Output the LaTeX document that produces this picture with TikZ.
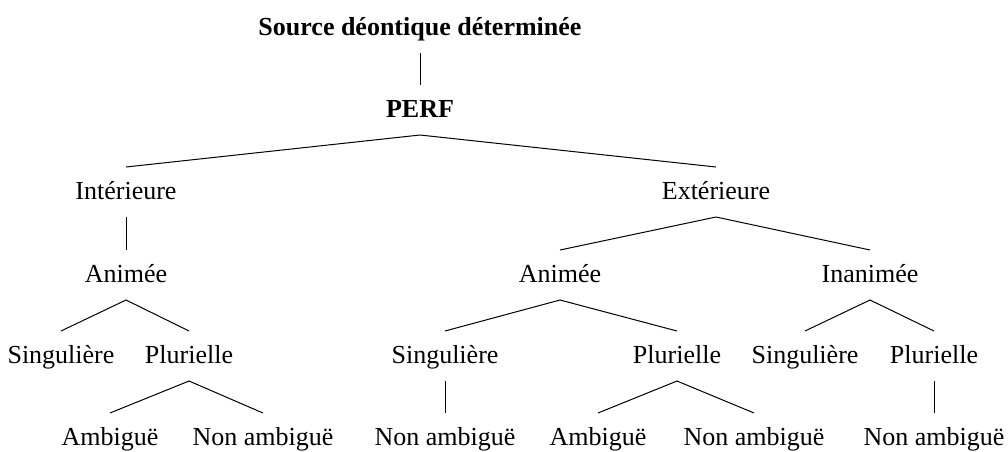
\documentclass[tikz,border=0pt]{standalone}
\usepackage{fontspec}
\setmainfont{Liberation Serif}
\begin{document}
\begin{tikzpicture}[x=1pt,y=-1pt,
  lbl/.style={font=\fontsize{26}{30}\selectfont, inner sep=0pt, outer xsep=0pt, outer ysep=7pt,
    text height=25pt, text depth=11pt, anchor=base},
  hd/.style={lbl, font=\fontsize{26}{30}\selectfont\bfseries},
  br/.style={line width=1pt, black}]
\useasboundingbox (0,0) rectangle (1008,451);
% nodes
\node[hd]  (src)   at (420,35)  {Source déontique déterminée};
\node[hd]  (perf)  at (420,117) {PERF};
\node[lbl] (int)   at (126,199) {Intérieure};
\node[lbl] (ext)   at (716,199) {Extérieure};
\node[lbl] (intan) at (126,282) {Animée};
\node[lbl] (exan)  at (560,282) {Animée};
\node[lbl] (exin)  at (870,282) {Inanimée};
\node[lbl] (s1)    at (61,363)  {Singulière};
\node[lbl] (p1)    at (189,363) {Plurielle};
\node[lbl] (s2)    at (445,363) {Singulière};
\node[lbl] (p2)    at (677,363) {Plurielle};
\node[lbl] (s3)    at (805,363) {Singulière};
\node[lbl] (p3)    at (934,363) {Plurielle};
\node[lbl] (a1)    at (110,445) {Ambiguë};
\node[lbl] (n1)    at (263,445) {Non ambiguë};
\node[lbl] (n2)    at (445,445) {Non ambiguë};
\node[lbl] (a2)    at (598,445) {Ambiguë};
\node[lbl] (n3)    at (754,445) {Non ambiguë};
\node[lbl] (n4)    at (934,445) {Non ambiguë};
% branches
\draw[br] (src.south) -- (perf.north);
\draw[br] (int.north) -- (perf.south) -- (ext.north);
\draw[br] (int.south) -- (intan.north);
\draw[br] (exan.north) -- (ext.south) -- (exin.north);
\draw[br] (s1.north) -- (intan.south) -- (p1.north);
\draw[br] (s2.north) -- (exan.south) -- (p2.north);
\draw[br] (s3.north) -- (exin.south) -- (p3.north);
\draw[br] (a1.north) -- (p1.south) -- (n1.north);
\draw[br] (s2.south) -- (n2.north);
\draw[br] (a2.north) -- (p2.south) -- (n3.north);
\draw[br] (p3.south) -- (n4.north);
\end{tikzpicture}
\end{document}
